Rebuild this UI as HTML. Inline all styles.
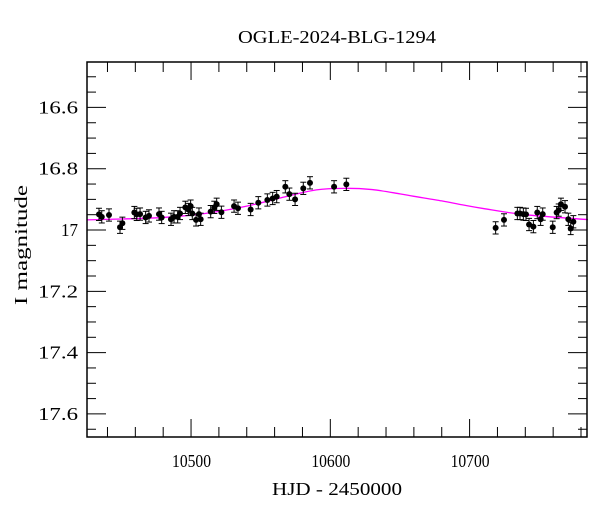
<!DOCTYPE html>
<html><head><meta charset="utf-8"><style>
html,body{margin:0;padding:0;background:#fff}
svg{display:block;font-family:"Liberation Serif",serif}
</style></head><body>
<svg id="chart" width="600" height="512" viewBox="0 0 600 512">
<text x="238" y="43" font-size="18" textLength="198" lengthAdjust="spacingAndGlyphs">OGLE-2024-BLG-1294</text>
<text x="272" y="495" font-size="18" textLength="130" lengthAdjust="spacingAndGlyphs">HJD - 2450000</text>
<text x="0" y="0" font-size="18" textLength="120" lengthAdjust="spacingAndGlyphs" transform="translate(27,305) rotate(-90)">I magnitude</text>
<g id="ticks"></g>
<g id="model"></g>
<g id="pts"></g>
<rect x="87" y="62" width="500" height="375" fill="none" stroke="#000" stroke-width="1.5"/>
</svg>
<script>
const hjd=[10433.9,10435.9,10441.1,10449.0,10450.7,10459.3,10461.0,10463.4,10467.4,10469.8,10477.0,10478.9,10485.6,10487.8,10490.4,10492.1,10495.9,10498.1,10499.7,10500.9,10503.6,10505.7,10506.9,10514.1,10516.7,10518.4,10521.8,10530.9,10533.7,10542.8,10548.3,10554.8,10558.6,10561.5,10567.7,10570.6,10574.7,10580.6,10585.4,10602.7,10611.5,10718.7,10724.7,10734.3,10736.2,10738.6,10740.5,10742.7,10745.8,10748.6,10751.0,10752.5,10759.7,10762.5,10764.0,10765.6,10768.5,10770.9,10772.6,10774.5];
const mag=[16.949,16.957,16.951,16.991,16.978,16.943,16.949,16.948,16.959,16.954,16.948,16.959,16.965,16.957,16.957,16.946,16.926,16.933,16.922,16.946,16.967,16.948,16.965,16.940,16.926,16.916,16.942,16.922,16.929,16.933,16.911,16.902,16.897,16.891,16.859,16.883,16.900,16.864,16.846,16.859,16.851,16.993,16.967,16.946,16.946,16.948,16.949,16.982,16.989,16.943,16.965,16.948,16.991,16.943,16.935,16.916,16.924,16.965,16.995,16.973];
const magErr=0.02;
const modelT=[10425,10450,10480,10510,10540,10570,10590,10610,10630,10650,10660,10680,10695,10710,10740,10785];
const modelM=[16.967,16.964,16.959,16.946,16.922,16.889,16.869,16.864,16.868,16.882,16.890,16.905,16.918,16.930,16.950,16.966];
const xTicks=[10500,10600,10700];
const yTicks=[16.6,16.8,17,17.2,17.4,17.6];
const yTickLabels=["16.6","16.8","17","17.2","17.4","17.6"];
const X0=87,X1=587,Y0=62,Y1=437,TMIN=10425.3,TMAX=10784.3,MMIN=16.4518,MMAX=17.6753;
const sx=t=>X0+(t-TMIN)/(TMAX-TMIN)*(X1-X0);
const sy=m=>Y0+(m-MMIN)/(MMAX-MMIN)*(Y1-Y0);
const NS="http://www.w3.org/2000/svg";
function mk(tag,attrs,parent){const e=document.createElementNS(NS,tag);for(const k in attrs)e.setAttribute(k,attrs[k]);parent.appendChild(e);return e;}
const tg=document.getElementById('ticks');
for(let t=10440;t<=10780;t+=20){
  const major=(t%100===0);const L=major?18:10;const x=sx(t);
  const a=mk('line',{x1:x,x2:x,y1:Y1,y2:Y1-L,stroke:'#000','stroke-width':1},tg);
  
  const b=mk('line',{x1:x,x2:x,y1:Y0,y2:Y0+L,stroke:'#000','stroke-width':1},tg);
  
}
xTicks.forEach(t=>{const e=mk('text',{x:sx(t)-19,y:467,'font-size':18,textLength:39,lengthAdjust:'spacingAndGlyphs'},tg);e.textContent=String(t);
  });
for(let i=0;i<=24;i++){
  const m=16.45+i*0.05;const major=(i%4===3);const L=major?19:9;const y=sy(m);
  if(y<Y0||y>Y1)continue;
  const a=mk('line',{x1:X0,x2:X0+L,y1:y,y2:y,stroke:'#000','stroke-width':1},tg);
  
  const b=mk('line',{x1:X1,x2:X1-L,y1:y,y2:y,stroke:'#000','stroke-width':1},tg);
  
}
yTicks.forEach((m,i)=>{const lab=yTickLabels[i];const w=lab.length===2?17:40;
  const e=mk('text',{x:78-w,y:sy(m)+6,'font-size':18,textLength:w,lengthAdjust:'spacingAndGlyphs'},tg);e.textContent=lab;
  });
const P=modelT.map((t,i)=>[sx(t),sy(modelM[i])]);
let d='M'+P[0][0]+','+P[0][1];
for(let i=0;i<P.length-1;i++){const p0=P[Math.max(0,i-1)],p1=P[i],p2=P[i+1],p3=P[Math.min(P.length-1,i+2)];
  d+=' C'+(p1[0]+(p2[0]-p0[0])/6)+','+(p1[1]+(p2[1]-p0[1])/6)+' '+(p2[0]-(p3[0]-p1[0])/6)+','+(p2[1]-(p3[1]-p1[1])/6)+' '+p2[0]+','+p2[1];}
const mp=mk('path',{d:d,fill:'none',stroke:'#ff00ff','stroke-width':1.3},document.getElementById('model'));

const pg=document.getElementById('pts');
hjd.forEach((t,i)=>{const x=sx(t),y=sy(mag[i]),y1=sy(mag[i]-magErr),y2=sy(mag[i]+magErr);
  const g=mk('g',{},pg);
  mk('line',{x1:x,x2:x,y1:y1,y2:y2,stroke:'#000','stroke-width':1},g);
  mk('line',{x1:x-3,x2:x+3,y1:y1,y2:y1,stroke:'#000','stroke-width':1},g);
  mk('line',{x1:x-3,x2:x+3,y1:y2,y2:y2,stroke:'#000','stroke-width':1},g);
  mk('circle',{cx:x,cy:y,r:3,fill:'#000'},g);
});
</script>
</body></html>
